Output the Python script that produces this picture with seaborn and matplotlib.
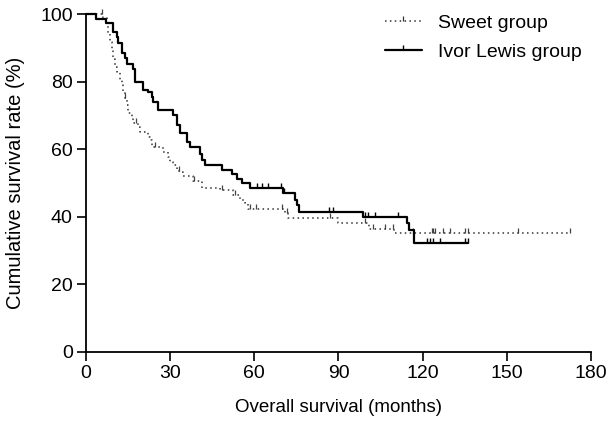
#! /usr/bin/env python
import matplotlib
matplotlib.use("Agg")
import pandas as pd
import seaborn as sns
from matplotlib import pyplot as plt
from matplotlib.lines import Line2D
from matplotlib.path import Path

# Kaplan-Meier steps: (month, survival %)
sweet_months = [0, 6.2, 7.4, 7.9, 8.6, 9.2, 9.7, 10.3, 10.9, 12.1, 12.7, 13.3, 13.9,
                14.5, 15.1, 16.3, 16.9, 18.6, 19.2, 22.2, 22.8, 23.4, 27.5, 29.3,
                29.9, 31.1, 32.3, 33.5, 34.7, 38.2, 41.2, 47.8, 52.5, 54.9, 56.7,
                57.9, 70.9, 72.1, 89.9, 101.0, 109.9, 110.5, 172.5]
sweet_surv = [100, 98.8, 96.9, 94.3, 91.9, 89.4, 86.9, 84.5, 83.0, 80.5, 79.1, 77.1,
              75.1, 73.1, 70.7, 69.2, 67.7, 66.7, 65.2, 63.7, 62.7, 60.7, 59.2,
              57.7, 56.2, 55.2, 53.7, 53.2, 52.2, 50.7, 48.4, 47.9, 46.4, 44.9,
              44.0, 42.4, 41.0, 39.5, 38.0, 36.5, 35.3, 35.3, 35.3]
sweet_cens_months = [5.6, 14.0, 18.0, 24.5, 33.0, 38.5, 48.5, 53.0, 58.5, 60.5,
                     70.0, 71.5, 87.0, 99.5, 102.4, 106.6, 109.5, 116.6, 123.2,
                     123.8, 124.4, 127.3, 129.7, 135.0, 136.2, 154.0, 172.5]

ivor_months = [0, 3.6, 7.0, 9.7, 10.9, 11.5, 12.7, 13.9, 14.5, 16.9, 17.5, 20.4,
               22.2, 23.4, 24.0, 25.8, 31.1, 32.3, 33.5, 35.9, 37.1, 40.6, 41.2,
               42.4, 48.4, 51.9, 53.7, 55.5, 58.4, 70.3, 74.6, 75.2, 76.0, 98.8,
               114.3, 115.0, 117.0, 136.2]
ivor_surv = [100, 98.6, 97.3, 94.8, 93.4, 91.4, 88.5, 87.0, 85.4, 83.9, 80.0, 77.6,
             77.1, 75.6, 74.1, 71.6, 70.1, 67.1, 64.7, 62.2, 60.7, 58.7, 56.8,
             55.2, 53.8, 52.8, 51.3, 49.9, 48.4, 46.9, 45.0, 43.5, 41.5, 40.0,
             38.2, 36.0, 32.1, 32.1]
ivor_cens_months = [60.8, 62.6, 65.0, 69.5, 70.5, 86.5, 88.0, 99.5, 100.5, 103.0,
                    111.3, 121.5, 122.5, 123.7, 126.2, 135.0, 136.2]

group_names = ["Sweet group", "Ivor Lewis group"]
x_ticks = [0, 30, 60, 90, 120, 150, 180]
y_ticks = [0, 20, 40, 60, 80, 100]


def step_value(months, surv, t):
    val = surv[0]
    for m, s in zip(months, surv):
        if m <= t:
            val = s
    return val


def km_plot() -> None:
    sns.set_style("ticks")
    plt.rcParams["font.family"] = ["Liberation Sans", "DejaVu Sans"]
    plt.rcParams["text.color"] = "black"
    plt.rcParams["axes.labelcolor"] = "black"
    plt.rcParams["xtick.color"] = "black"
    plt.rcParams["ytick.color"] = "black"

    fig = plt.figure(figsize=(6.08, 4.21), dpi=100)
    ax = fig.add_axes([0.1414, 0.1646, 0.8306, 0.8014])

    sweet = pd.DataFrame({"month": sweet_months, "surv": sweet_surv})
    ivor = pd.DataFrame({"month": ivor_months, "surv": ivor_surv})
    sweet_c = pd.DataFrame({"month": sweet_cens_months,
                            "surv": [step_value(sweet_months, sweet_surv, t) for t in sweet_cens_months]})
    ivor_c = pd.DataFrame({"month": ivor_cens_months,
                           "surv": [step_value(ivor_months, ivor_surv, t) for t in ivor_cens_months]})

    sns.lineplot(data=sweet, x="month", y="surv", ax=ax, drawstyle="steps-post",
                 color="#333333", linestyle=(0, (1, 2.2)), linewidth=1.1,
                 estimator=None, sort=False, clip_on=False)
    sns.lineplot(data=ivor, x="month", y="surv", ax=ax, drawstyle="steps-post",
                 color="black", linewidth=1.6, estimator=None, sort=False,
                 clip_on=False)

    tick = Path([(0, 0), (0, 1)])
    sns.scatterplot(data=sweet_c, x="month", y="surv", ax=ax, marker=tick, s=45,
                    color="#444444", edgecolor="#444444", linewidth=0.9, clip_on=False)
    sns.scatterplot(data=ivor_c, x="month", y="surv", ax=ax, marker=tick, s=45,
                    color="black", edgecolor="black", linewidth=1.0, clip_on=False)

    ax.set_xlim(0, 180)
    ax.set_ylim(0, 100)
    ax.set_xticks(x_ticks)
    ax.set_yticks(y_ticks)
    ax.set_xlabel("Overall survival (months)", fontsize=13.5, labelpad=12)
    ax.set_ylabel("Cumulative survival rate (%)", fontsize=14.5, labelpad=11)
    ax.tick_params(labelsize=14, width=1.2, length=6.5, color="black", pad=3)
    for side in ["left", "bottom"]:
        ax.spines[side].set_linewidth(1.3)
        ax.spines[side].set_color("black")
    sns.despine(ax=ax)

    handles = [
        Line2D([0], [0], color="#333333", linestyle=(0, (1, 2.2)), linewidth=1.1,
               marker=tick, markersize=7, markeredgewidth=0.9),
        Line2D([0], [0], color="black", linewidth=1.6, marker=tick,
               markersize=7, markeredgewidth=1.0),
    ]
    fig.legend(handles, group_names, loc="upper left",
               bbox_to_anchor=(385 / 608, 1 - 14 / 421), frameon=False,
               fontsize=14, numpoints=1, handlelength=1.9, handletextpad=0.85,
               labelspacing=0.6, borderpad=0, borderaxespad=0)

    plt.savefig("out.png", dpi=100)


if __name__ == "__main__":
    km_plot()
